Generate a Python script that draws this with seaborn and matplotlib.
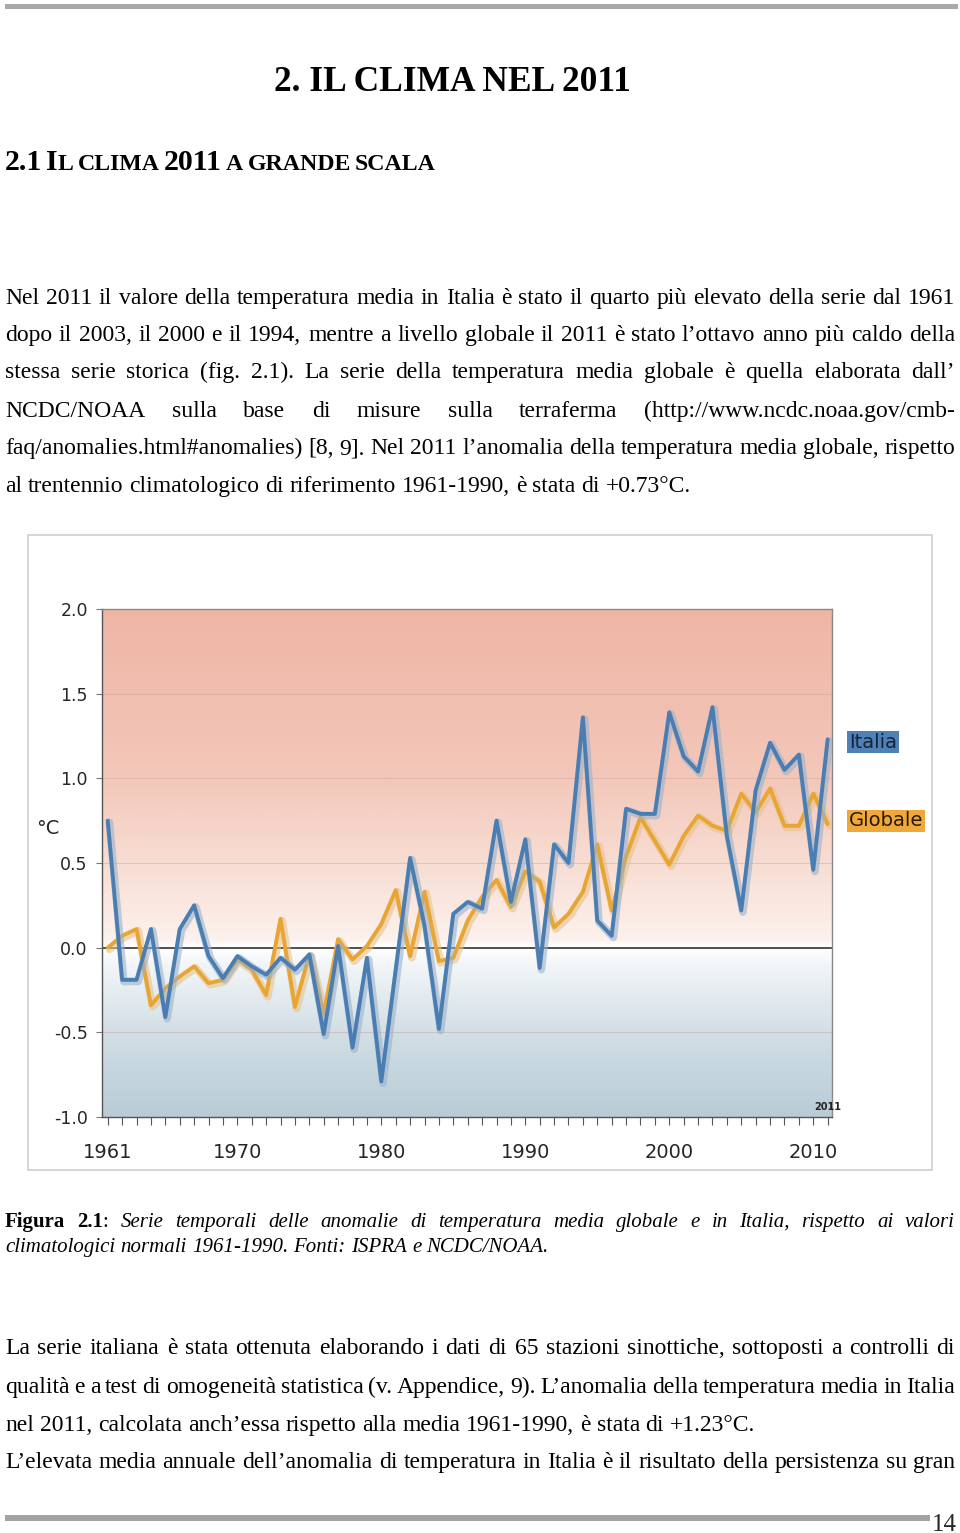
import numpy as np
import pandas as pd
import matplotlib
matplotlib.use('Agg')
import matplotlib.pyplot as plt
import matplotlib.patheffects as pe
from matplotlib.colors import LinearSegmentedColormap
from matplotlib.patches import Rectangle
import seaborn as sns

# anomalie di temperatura (°C) rispetto al 1961-1990
years = list(range(1961, 2012))
italia = [0.75, -0.19, -0.19, 0.11, -0.41, 0.11, 0.25, -0.05, -0.18, -0.05,
          -0.11, -0.16, -0.06, -0.13, -0.04, -0.51, 0.01, -0.59, -0.06, -0.79,
          -0.13, 0.53, 0.13, -0.48, 0.20, 0.27, 0.23, 0.75, 0.27, 0.64,
          -0.12, 0.61, 0.50, 1.36, 0.16, 0.07, 0.82, 0.79, 0.79, 1.39,
          1.13, 1.04, 1.42, 0.66, 0.22, 0.93, 1.21, 1.05, 1.14, 0.46,
          1.23]
globale = [0.00, 0.07, 0.11, -0.34, -0.24, -0.17, -0.11, -0.21, -0.19, -0.07,
           -0.13, -0.28, 0.17, -0.35, -0.04, -0.39, 0.05, -0.07, 0.01, 0.14,
           0.34, -0.05, 0.33, -0.08, -0.06, 0.16, 0.30, 0.40, 0.24, 0.45,
           0.39, 0.12, 0.20, 0.33, 0.61, 0.22, 0.54, 0.77, 0.63, 0.49,
           0.66, 0.78, 0.72, 0.69, 0.91, 0.80, 0.94, 0.72, 0.72, 0.91,
           0.73]
xtick_years = [1961, 1970, 1980, 1990, 2000, 2010]
yticks = [-1.0, -0.5, 0.0, 0.5, 1.0, 1.5, 2.0]
ytick_labels = ['-1.0', '-0.5', '0.0', '0.5', '1.0', '1.5', '2.0']

para1 = [
    "Nel 2011 il valore della temperatura media in Italia è stato il quarto più elevato della serie dal 1961",
    "dopo il 2003, il 2000 e il 1994, mentre a livello globale il 2011 è stato l’ottavo anno più caldo della",
    "stessa serie storica (fig. 2.1). La serie della temperatura media globale è quella elaborata dall’",
    "NCDC/NOAA sulla base di misure sulla terraferma (http://www.ncdc.noaa.gov/cmb-",
    "faq/anomalies.html#anomalies) [8, 9]. Nel 2011 l’anomalia della temperatura media globale, rispetto",
    "al trentennio climatologico di riferimento 1961-1990, è stata di +0.73°C.",
]
caption1 = "Serie temporali delle anomalie di temperatura media globale e in Italia, rispetto ai valori"
caption2 = "climatologici normali 1961-1990. Fonti: ISPRA e NCDC/NOAA."
para2 = [
    "La serie italiana è stata ottenuta elaborando i dati di 65 stazioni sinottiche, sottoposti a controlli di",
    "qualità e a test di omogeneità statistica (v. Appendice, 9). L’anomalia della temperatura media in Italia",
    "nel 2011, calcolata anch’essa rispetto alla media 1961-1990, è stata di +1.23°C.",
    "L’elevata media annuale dell’anomalia di temperatura in Italia è il risultato della persistenza su gran",
]

W, H = 960, 1533
sns.set_theme(style='white')
plt.rcParams['font.family'] = ['DejaVu Sans']

fig = plt.figure(figsize=(W / 100, H / 100), dpi=100)
fig.patch.set_facecolor('white')
renderer = fig.canvas.get_renderer()


def fx(x):
    return x / W


def fy(y):
    return 1 - y / H


def seg_width(s, props):
    t = fig.text(0, 0, s, **props)
    w = t.get_window_extent(renderer).width
    t.remove()
    return w


def write_line(tokens, y, base, justify=True, x0=5, x1=955):
    toks = [[(t, {})] if isinstance(t, str) else t for t in tokens]
    widths = [[seg_width(s, {**base, **o}) for s, o in tok] for tok in toks]
    total = sum(sum(ws) for ws in widths)
    if justify and len(toks) > 1:
        gap = (x1 - x0 - total) / (len(toks) - 1)
    else:
        gap = seg_width('x x', base) - seg_width('xx', base)
    x = x0
    for tok, ws in zip(toks, widths):
        for (s, o), w in zip(tok, ws):
            fig.text(fx(x), fy(y), s, ha='left', va='baseline', **{**base, **o})
            x += w
        x += gap


# page decorations
fig.add_artist(Rectangle((fx(5), fy(9)), (958 - 5) / W, 5 / H, transform=fig.transFigure,
                         color='#A9A9A9', lw=0))
fig.add_artist(Rectangle((fx(5), fy(1521)), (930 - 5) / W, 6 / H, transform=fig.transFigure,
                         color='#A3A3A3', lw=0))
fig.text(fx(944), fy(1531), '14', family='Liberation Serif', fontsize=18, ha='center', va='baseline')

serif = dict(family='Liberation Serif', color='black')
fig.text(fx(452), fy(91), '2. IL CLIMA NEL 2011', fontsize=25.5, weight='bold', ha='center',
         va='baseline', **serif)
big = dict(fontsize=21.5)
small = dict(fontsize=17.2)
write_line([[('2.1', big)], [('I', big), ('L', small)], [('CLIMA', small)], [('2011', big)],
            [('A', small)], [('GRANDE', small)], [('SCALA', small)]],
           170, dict(weight='bold', **serif), justify=False)

body = dict(fontsize=17, **serif)
base1 = [304, 341, 378, 417, 454, 492]
for i, (line, y) in enumerate(zip(para1, base1)):
    write_line(line.split(' '), y, body, justify=(i < len(para1) - 1))

cap_it = dict(fontsize=15, style='italic', **serif)
bold = dict(style='normal', weight='bold')
regular = dict(style='normal')
write_line([[('Figura', bold)], [('2.1', bold), (':', regular)]] + caption1.split(' '),
           1227, cap_it)
write_line(caption2.split(' '), 1252, cap_it, justify=False)

base2 = [1354, 1393, 1431, 1468]
for i, (line, y) in enumerate(zip(para2, base2)):
    write_line(line.split(' '), y, body, justify=(i != 2))

# chart frame
fig.add_artist(Rectangle((fx(28), fy(1170)), (932 - 28) / W, (1170 - 535) / H,
                         transform=fig.transFigure, fill=False, edgecolor='#D2D2D2', lw=1.3))

ax = fig.add_axes([fx(101.7), fy(1117), (831.7 - 101.7) / W, (1117 - 609) / H])
x_lo, x_hi = 1960.58, 2011.28

cmap = LinearSegmentedColormap.from_list('bg', [
    (0.0, '#B9CCD6'), (0.5 / 3, '#D2DFE6'), (0.9 / 3, '#F3F6F8'), (1.0 / 3, '#FFFFFF'),
    (1.05 / 3, '#FCF1EC'), (1.5 / 3, '#F8DDD3'), (2.0 / 3, '#F3C8BA'), (2.5 / 3, '#F1BEAF'),
    (1.0, '#EFB6A5')])
grad = np.linspace(-1, 2, 400).reshape(-1, 1)
ax.imshow(grad, extent=[x_lo, x_hi, -1, 2], origin='lower', aspect='auto', cmap=cmap,
          norm=plt.Normalize(-1, 2), zorder=0)

df = pd.DataFrame({'anno': years * 2,
                   'anomalia': globale + italia,
                   'serie': ['Globale'] * len(years) + ['Italia'] * len(years)})
sns.lineplot(data=df, x='anno', y='anomalia', hue='serie', hue_order=['Globale', 'Italia'],
             palette={'Globale': '#E9A534', 'Italia': '#4A7DB2'}, lw=2.8, legend=False,
             ax=ax, zorder=3)
for line, halo in zip(ax.lines, ['#E6C38C', '#9AB2CA']):
    line.set_path_effects([pe.Stroke(offset=(1.2, -1.2), linewidth=5.5, foreground=halo, alpha=0.6),
                           pe.Normal()])

for v in [-0.5, 0.5, 1.0, 1.5]:
    ax.axhline(v, color='#C9A396', lw=0.6, alpha=0.55, zorder=1)
ax.axhline(0, color='#333333', lw=1.2, zorder=2)

ax.set_xlim(x_lo, x_hi)
ax.set_ylim(-1, 2)
ax.set_xticks(xtick_years)
ax.set_xticklabels([str(y) for y in xtick_years], fontsize=14)
ax.set_xticks(years, minor=True)
ax.set_yticks(yticks)
ax.set_yticklabels(ytick_labels, fontsize=12.5)
ax.tick_params(axis='x', which='both', direction='out', length=6, width=0.8, color='#555555',
               pad=13, bottom=True)
ax.tick_params(axis='y', which='major', direction='out', length=4, width=0.8, color='#777777',
               pad=6, left=True)
ax.set_xlabel('')
ax.set_ylabel('')
for side in ['left', 'bottom']:
    ax.spines[side].set_color('#555555')
    ax.spines[side].set_linewidth(1.0)
for side in ['top', 'right']:
    ax.spines[side].set_color('#8A8A8A')
    ax.spines[side].set_linewidth(1.0)

ax.text(2011, -0.94, '2011', fontsize=7, weight='bold', ha='center', va='center', color='#222222')

fig.text(fx(48), fy(828), '°C', fontsize=14, ha='center', va='center')
fig.text(fx(849), fy(742), 'Italia', fontsize=14, color='#14243A', ha='left', va='center',
         bbox=dict(boxstyle='square,pad=0.08', fc='#4F80B6', ec='none'))
fig.text(fx(849), fy(821), 'Globale', fontsize=14, color='#2A1A05', ha='left', va='center',
         bbox=dict(boxstyle='square,pad=0.08', fc='#EFA93A', ec='none'))

fig.savefig('out.png', dpi=100)
